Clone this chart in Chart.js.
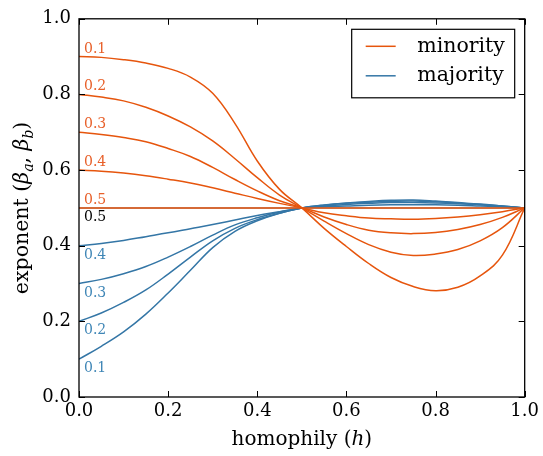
<!DOCTYPE html>
<html>
<head>
<meta charset="utf-8">
<script src="https://cdn.jsdelivr.net/npm/chart.js@4.4.1/dist/chart.umd.min.js"></script>
<style>
  body { margin: 0; background: #fff; }
  canvas { display: block; }
</style>
</head>
<body>
<canvas id="chart" width="543" height="456"></canvas>
<script>
// homophily values along the x axis
var homophily = [0, 0.05, 0.1, 0.15, 0.2, 0.25, 0.3, 0.35, 0.4, 0.45, 0.5,
                 0.55, 0.6, 0.65, 0.7, 0.75, 0.8, 0.85, 0.9, 0.95, 1];

// minority exponent curves (group size labels 0.1 .. 0.5)
var minority01 = [0.900,0.898,0.892,0.883,0.869,0.846,0.803,0.723,0.624,0.549,0.500,0.446,0.398,0.353,0.316,0.292,0.281,0.290,0.320,0.375,0.500];
var minority02 = [0.800,0.793,0.783,0.766,0.743,0.714,0.677,0.630,0.580,0.534,0.500,0.465,0.432,0.403,0.383,0.374,0.378,0.390,0.413,0.448,0.500];
var minority03 = [0.700,0.694,0.686,0.675,0.657,0.636,0.607,0.575,0.545,0.519,0.500,0.476,0.456,0.441,0.434,0.432,0.435,0.443,0.456,0.475,0.500];
var minority04 = [0.600,0.597,0.592,0.585,0.576,0.566,0.553,0.539,0.525,0.512,0.500,0.487,0.479,0.473,0.471,0.470,0.472,0.476,0.482,0.490,0.500];
var minority05 = [0.5,0.5,0.5,0.5,0.5,0.5,0.5,0.5,0.5,0.5,0.5,0.5,0.5,0.5,0.5,0.5,0.5,0.5,0.5,0.5,0.5];

// majority exponent curves
var majority01 = [0.100,0.134,0.172,0.219,0.275,0.335,0.395,0.438,0.466,0.486,0.500,0.508,0.513,0.517,0.520,0.521,0.518,0.514,0.510,0.505,0.500];
var majority02 = [0.200,0.222,0.250,0.283,0.325,0.370,0.413,0.446,0.469,0.486,0.500,0.507,0.512,0.515,0.517,0.518,0.516,0.513,0.509,0.505,0.500];
var majority03 = [0.300,0.311,0.326,0.345,0.370,0.398,0.428,0.455,0.474,0.489,0.500,0.505,0.509,0.512,0.514,0.514,0.513,0.511,0.508,0.504,0.500];
var majority04 = [0.400,0.406,0.414,0.424,0.434,0.445,0.456,0.468,0.480,0.490,0.500,0.503,0.505,0.507,0.508,0.508,0.508,0.507,0.505,0.503,0.500];
var majority05 = [0.5,0.5,0.5,0.5,0.5,0.5,0.5,0.5,0.5,0.5,0.5,0.5,0.5,0.5,0.5,0.5,0.5,0.5,0.5,0.5,0.5];

var curveLabels = ['0.1', '0.2', '0.3', '0.4', '0.5'];
var tickValues = [0, 0.2, 0.4, 0.6, 0.8, 1.0];
var seriesNames = ['minority', 'majority'];

var minorityCurves = [minority01, minority02, minority03, minority04, minority05];
var majorityCurves = [majority01, majority02, majority03, majority04, majority05];

var ORANGE = '#e6550d';
var BLUE = '#3476a6';
var FONT = "'DejaVu Serif', serif";

function pts(arr) {
    return homophily.map(function(h, i){ return {x: h, y: arr[i]}; });
}

var datasets = [];
minorityCurves.forEach(function(c, i){
    datasets.push({ label: 'minority ' + curveLabels[i], data: pts(c),
        borderColor: ORANGE, borderWidth: 1.5, pointRadius: 0, tension: 0.4 });
});
majorityCurves.forEach(function(c, i){
    datasets.push({ label: 'majority ' + curveLabels[i], data: pts(c),
        borderColor: i == 4 ? '#8593a0' : BLUE, borderWidth: 1.5, pointRadius: 0, tension: 0.4 });
});

// draws frame, inward ticks, curve labels, legend and axis titles
var decor = {
    id: 'decor',
    afterDraw: function(chart) {
        var ctx = chart.ctx, a = chart.chartArea;
        var xs = chart.scales.x, ys = chart.scales.y;
        ctx.save();
        ctx.strokeStyle = '#000';
        ctx.lineWidth = 1.3;
        ctx.strokeRect(a.left, a.top, a.right - a.left, a.bottom - a.top);
        ctx.lineWidth = 1;
        tickValues.forEach(function(v){
            var x = Math.round(xs.getPixelForValue(v)) + 0.5;
            var y = Math.round(ys.getPixelForValue(v)) + 0.5;
            ctx.beginPath();
            ctx.moveTo(x, a.bottom); ctx.lineTo(x, a.bottom - 6);
            ctx.moveTo(x, a.top); ctx.lineTo(x, a.top + 6);
            ctx.moveTo(a.left, y); ctx.lineTo(a.left + 6, y);
            ctx.moveTo(a.right, y); ctx.lineTo(a.right - 6, y);
            ctx.stroke();
        });

        // curve labels at h = 0
        ctx.font = '14px ' + FONT;
        ctx.textAlign = 'left';
        ctx.textBaseline = 'alphabetic';
        var lx = xs.getPixelForValue(0) + 5;
        minorityCurves.forEach(function(c, i){
            ctx.fillStyle = '#e8602a';
            ctx.fillText(curveLabels[i], lx, ys.getPixelForValue(c[0]) - 4);
        });
        majorityCurves.forEach(function(c, i){
            ctx.fillStyle = i == 4 ? '#000' : '#3f86b6';
            ctx.fillText(curveLabels[i], lx, ys.getPixelForValue(c[0]) + 13);
        });

        // legend
        var bw = 163, bh = 68.5;
        var bx = a.right - 10 - bw, by = a.top + 10.5;
        ctx.fillStyle = '#fff';
        ctx.fillRect(bx, by, bw, bh);
        ctx.strokeStyle = '#000';
        ctx.lineWidth = 1.2;
        ctx.strokeRect(bx, by, bw, bh);
        ctx.font = '20.5px ' + FONT;
        ctx.textBaseline = 'middle';
        [ORANGE, BLUE].forEach(function(col, i){
            var ly = by + 17 + i * 29.5;
            ctx.strokeStyle = col;
            ctx.lineWidth = 1.5;
            ctx.beginPath();
            ctx.moveTo(bx + 14, ly); ctx.lineTo(bx + 44, ly);
            ctx.stroke();
            ctx.fillStyle = '#000';
            ctx.fillText(seriesNames[i], bx + 65.5, ly);
        });

        // axis titles
        ctx.fillStyle = '#000';
        ctx.textBaseline = 'alphabetic';
        drawParts(ctx, [['homophily (', 20, 0, ''], ['h', 20, 0, 'italic '], [')', 20, 0, '']],
            (a.left + a.right) / 2, 445);
        ctx.save();
        ctx.translate(28, (a.top + a.bottom) / 2);
        ctx.rotate(-Math.PI / 2);
        drawParts(ctx, [['exponent (', 20.5, 0, ''], ['\u03b2', 20.5, 0, 'italic '], ['a', 14, 4.5, 'italic '],
            [', ', 20.5, 0, ''], ['\u03b2', 20.5, 0, 'italic '], ['b', 14, 4.5, 'italic '], [')', 20.5, 0, '']], 0, 0);
        ctx.restore();
        ctx.restore();
    }
};

function drawParts(ctx, parts, cx, y) {
    var total = 0;
    parts.forEach(function(p){
        ctx.font = p[3] + p[1] + 'px ' + FONT;
        p.w = ctx.measureText(p[0]).width;
        total += p.w;
    });
    var x = cx - total / 2;
    ctx.textAlign = 'left';
    parts.forEach(function(p){
        ctx.font = p[3] + p[1] + 'px ' + FONT;
        ctx.fillText(p[0], x, y + p[2]);
        x += p.w;
    });
}

var ctx = document.getElementById('chart').getContext('2d');
var chart = new Chart(ctx, {
    type: 'line',
    data: { datasets: datasets },
    options: {
        responsive: false,
        animation: false,
        layout: { padding: { top: 17, right: 17, left: 0, bottom: 0 } },
        plugins: { legend: { display: false }, tooltip: { enabled: false } },
        scales: {
            x: {
                type: 'linear', min: 0, max: 1,
                grid: { display: false, drawTicks: false },
                border: { display: false },
                afterFit: function(s){ s.height = 59; },
                afterBuildTicks: function(s){ s.ticks = tickValues.map(function(v){ return {value: v}; }); },
                ticks: { padding: 4, color: '#000', font: { family: FONT, size: 18 },
                    maxRotation: 0, callback: function(v){ return v.toFixed(1); } }
            },
            y: {
                type: 'linear', min: 0, max: 1,
                grid: { display: false, drawTicks: false },
                border: { display: false },
                afterFit: function(s){ s.width = 79; },
                afterBuildTicks: function(s){ s.ticks = tickValues.map(function(v){ return {value: v}; }); },
                ticks: { padding: 8, color: '#000', font: { family: FONT, size: 18 },
                    callback: function(v){ return v.toFixed(1); } }
            }
        }
    },
    plugins: [decor]
});
</script>
</body>
</html>
